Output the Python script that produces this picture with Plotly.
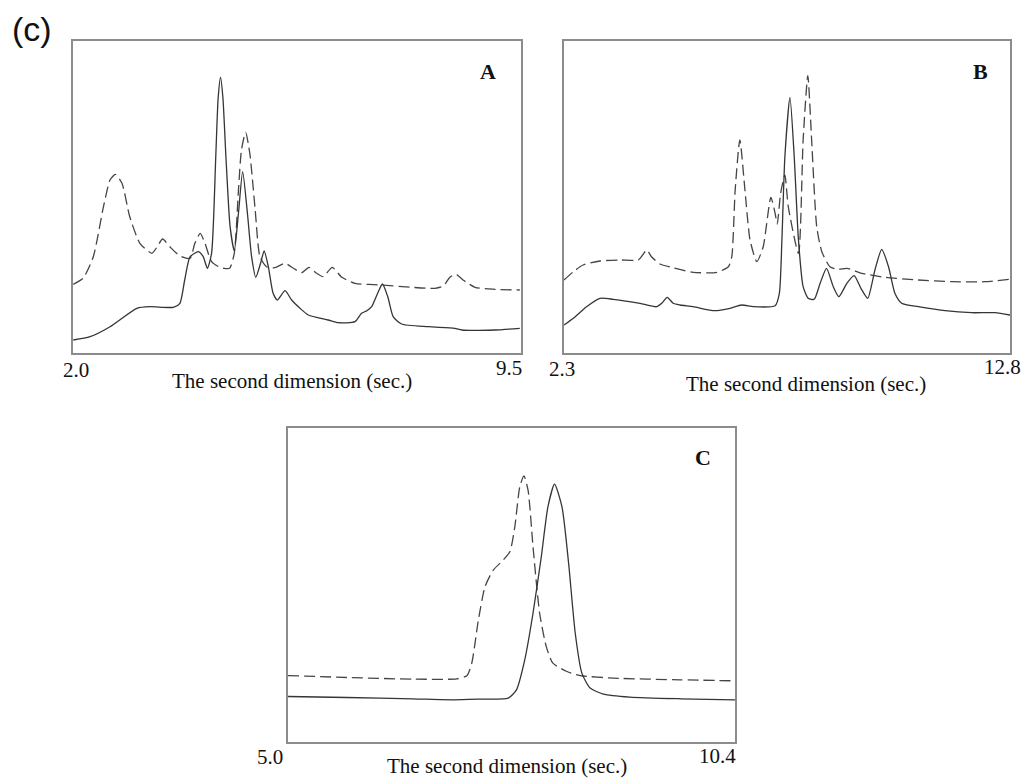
import plotly.graph_objects as go

# ---------------- Panel A (2.0 - 9.5 s) ----------------
a_solid_x = [2.005, 2.285, 2.62, 3.07, 3.29, 3.68, 3.79, 3.87, 3.96, 4.10, 4.18, 4.25, 4.32, 4.39,
             4.43, 4.47, 4.51, 4.56, 4.63, 4.70, 4.77, 4.84, 4.92, 4.99, 5.06, 5.14, 5.20, 5.27,
             5.35, 5.42, 5.55, 5.66, 5.80, 5.94, 6.27, 6.44, 6.72, 6.83, 6.92, 7.00, 7.10, 7.18,
             7.27, 7.36, 7.50, 7.95, 8.39, 8.51, 9.06, 9.48]
a_solid_y = [13, 16.3, 26.3, 44.7, 46.3, 45.7, 49.7, 73, 96.3, 101.3, 96.3, 84.7, 99.7, 196.3,
             255, 275.7, 255, 196.3, 126.3, 102.3, 139.7, 181.3, 139.7, 96.3, 75.7, 89.7, 102, 86.3,
             59.7, 53, 62.3, 53, 44.7, 38, 33, 30.3, 31.3, 39.7, 42.3, 46.3, 59.7, 69,
             56.3, 36.3, 29, 26.3, 24.7, 23, 23, 24.7]
a_dash_x = [2.005, 2.17, 2.34, 2.51, 2.62, 2.71, 2.82, 2.95, 3.12, 3.32, 3.41, 3.50, 3.62, 3.79,
            3.96, 4.04, 4.13, 4.21, 4.32, 4.46, 4.62, 4.70, 4.77, 4.82, 4.89, 4.96, 5.05, 5.13,
            5.24, 5.38, 5.55, 5.69, 5.83, 5.95, 6.08, 6.19, 6.34, 6.50, 6.72, 7.17, 7.67, 8.06,
            8.20, 8.31, 8.41, 8.53, 8.73, 9.06, 9.48]
a_dash_y = [68.7, 74.7, 96.3, 146.3, 173, 178.7, 169.7, 136.3, 109.7, 99.7, 106.3, 114, 106.3, 97,
            94.7, 109.7, 119.7, 109.7, 91.3, 85.7, 84.7, 99.7, 163, 203, 220.7, 199.7, 143, 96.3,
            86.3, 85.3, 89.7, 84.7, 80.3, 85.7, 79.7, 76.3, 85.7, 75.7, 69.7, 68, 65.7, 64.7,
            67, 75.7, 78.7, 73, 65.7, 63.7, 63]

# ---------------- Panel B (2.3 - 12.8 s) ----------------
b_solid_x = [2.30, 2.52, 2.83, 3.15, 3.46, 4.09, 4.48, 4.60, 4.73, 4.87, 5.03, 5.34, 5.85, 6.21,
             6.48, 6.76, 7.27, 7.37, 7.43, 7.50, 7.62, 7.72, 7.82, 7.93, 8.05, 8.19, 8.33, 8.48,
             8.64, 8.77, 8.96, 9.13, 9.29, 9.45, 9.62, 9.78, 9.94, 10.09, 10.25, 10.64, 11.27,
             11.90, 12.45, 12.80]
b_solid_y = [28, 34.7, 46.3, 54.7, 53.7, 49.7, 46.3, 49.7, 55.7, 49.7, 48, 46.3, 42.3, 44.7,
             48, 46.3, 47.3, 59.7, 113, 196.3, 255.7, 196.3, 113, 66.3, 54.7, 53.7, 69.7, 84.7,
             66.3, 56.3, 69.7, 77.3, 64.7, 54.7, 83, 103.7, 86.3, 59.7, 49.7, 46.3, 42.3,
             40.3, 40.3, 38]
b_dash_x = [2.30, 2.52, 2.75, 3.15, 3.62, 4.05, 4.15, 4.25, 4.36, 4.56, 4.87, 5.34, 5.90, 6.17,
            6.25, 6.33, 6.44, 6.56, 6.68, 6.84, 6.99, 7.17, 7.27, 7.32, 7.40, 7.50, 7.58, 7.82,
            7.93, 8.04, 8.13, 8.25, 8.37, 8.56, 8.75, 8.96, 9.31, 9.86, 10.64, 11.43, 12.21, 12.80]
b_dash_y = [73, 81.3, 88, 92, 93, 93, 98, 103, 96.3, 89, 85.3, 80.7, 80.7, 86.3,
            96.3, 163, 213, 163, 113, 91.3, 106.3, 155.7, 139.7, 129, 159.7, 178, 146.3, 99.7,
            213, 277.3, 213, 126.3, 101.3, 86.3, 83.7, 84.7, 79.7, 75.7, 73, 71.3, 71.3, 73.7]

# ---------------- Panel C (5.0 - 10.4 s) ----------------
c_solid_x = [5.00, 5.71, 6.51, 7.00, 7.32, 7.66, 7.76, 7.86, 7.96, 8.06, 8.14, 8.22, 8.31, 8.39,
             8.47, 8.55, 8.65, 8.81, 9.13, 9.74, 10.40]
c_solid_y = [45.6, 44.6, 43.3, 42.3, 43, 44, 52.3, 82.3, 129, 185.6, 235.6, 258.3, 235.6, 179,
             109, 69, 54, 48, 45, 43.3, 42.3]
c_dash_x = [5.00, 5.71, 6.51, 7.04, 7.16, 7.22, 7.30, 7.38, 7.48, 7.58, 7.68, 7.74, 7.80, 7.85,
            7.90, 7.96, 8.04, 8.12, 8.20, 8.37, 8.53, 8.93, 9.74, 10.40]
c_dash_y = [66.6, 64.6, 63, 63.3, 66.3, 79, 122.3, 155.6, 172.3, 180.6, 190.6, 215.6, 255.6, 266.6,
            252.3, 195.6, 129, 95.6, 79, 70.6, 66.6, 64, 62.3, 61.3]

x_ranges = {"A": [2.0, 9.5], "B": [2.3, 12.8], "C": [5.0, 10.4]}
tick_labels = {"A": ["2.0", "9.5"], "B": ["2.3", "12.8"], "C": ["5.0", "10.4"]}
x_title = "The second dimension (sec.)"

W, H = 1024, 780
SERIF = "Liberation Serif, Times New Roman, serif"
SOLID_C = "#353535"
DASH_C = "#454545"
FRAME_C = "#8c8c8c"

fig = go.Figure()

panels = [
    ("A", "x", "y", a_solid_x, a_solid_y, a_dash_x, a_dash_y),
    ("B", "x2", "y2", b_solid_x, b_solid_y, b_dash_x, b_dash_y),
    ("C", "x3", "y3", c_solid_x, c_solid_y, c_dash_x, c_dash_y),
]
for name, xa, ya, sx, sy, dx, dy in panels:
    fig.add_trace(go.Scatter(x=dx, y=dy, xaxis=xa, yaxis=ya, mode="lines",
                             line=dict(color=DASH_C, width=1.3, dash="11px,5px",
                                       shape="spline", smoothing=0.6),
                             showlegend=False, hoverinfo="skip"))
    fig.add_trace(go.Scatter(x=sx, y=sy, xaxis=xa, yaxis=ya, mode="lines",
                             line=dict(color=SOLID_C, width=1.3, shape="spline", smoothing=0.6),
                             showlegend=False, hoverinfo="skip"))

# pixel frames of panels: (left, right, top, bottom)
frames = {"A": (73, 521, 41, 353), "B": (564, 1010, 41, 353), "C": (288, 735, 428, 742)}
y_ranges = {"A": [0, 312], "B": [0, 312], "C": [0, 314.6]}

axis_common = dict(showline=True, mirror=True, linecolor=FRAME_C, linewidth=1.5,
                   showgrid=False, zeroline=False, showticklabels=False, ticks="",
                   fixedrange=True)
layout_axes = {}
for i, name in enumerate(["A", "B", "C"]):
    l, r, t, b = frames[name]
    sfx = "" if i == 0 else str(i + 1)
    layout_axes["xaxis" + sfx] = dict(axis_common, domain=[l / W, r / W], range=x_ranges[name],
                                      anchor="y" + sfx)
    layout_axes["yaxis" + sfx] = dict(axis_common, domain=[1 - b / H, 1 - t / H],
                                      range=y_ranges[name], anchor="x" + sfx)

annotations = []


def px_ann(text, x, y, size, family=SERIF, bold=False, xanchor="center"):
    annotations.append(dict(text=("<b>%s</b>" % text) if bold else text,
                            x=x / W, y=1 - y / H, xref="paper", yref="paper",
                            xanchor=xanchor, yanchor="middle", showarrow=False,
                            font=dict(family=family, size=size, color="#111")))


# tick labels at axis ends
px_ann(tick_labels["A"][0], 76, 370, 21)
px_ann(tick_labels["A"][1], 509, 368, 21)
px_ann(tick_labels["B"][0], 562, 369, 21)
px_ann(tick_labels["B"][1], 1002, 367, 21)
px_ann(tick_labels["C"][0], 270, 757, 21)
px_ann(tick_labels["C"][1], 717, 756, 21)
# axis titles
px_ann(x_title, 292, 381, 21)
px_ann(x_title, 806, 384, 21)
px_ann(x_title, 507, 766, 21)
# panel letters
px_ann("A", 488, 71, 22, bold=True)
px_ann("B", 980, 71, 22, bold=True)
px_ann("C", 703, 457, 22, bold=True)
# figure label
px_ann("(c)", 32, 29, 34, family="Liberation Sans, Arial, sans-serif")

fig.update_layout(width=W, height=H, margin=dict(l=0, r=0, t=0, b=0),
                  paper_bgcolor="white", plot_bgcolor="white",
                  annotations=annotations, **layout_axes)

fig.write_html("out.html")
